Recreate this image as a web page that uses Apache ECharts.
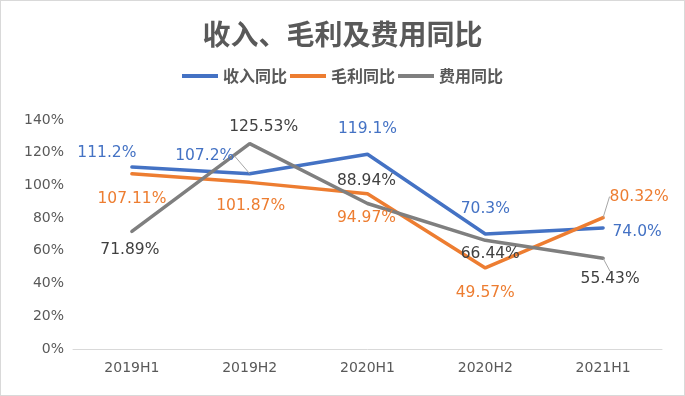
<!DOCTYPE html>
<html><head><meta charset="utf-8">
<script src="https://cdn.jsdelivr.net/npm/echarts@6/dist/echarts.min.js"></script>
<style>html,body{margin:0;padding:0;background:#fff}#c{width:683px;height:394px;border:1px solid #d9d9d9}</style>
</head><body><div id="c"></div>
<script>
var categories = ['2019H1','2019H2','2020H1','2020H2','2021H1'];
var revenueYoY = [111.2, 107.2, 119.1, 70.3, 74.0];
var grossYoY = [107.11, 101.87, 94.97, 49.57, 80.32];
var expenseYoY = [71.89, 125.53, 88.94, 66.44, 55.43];
var revenueLabels = ['111.2%','107.2%','119.1%','70.3%','74.0%'];
var grossLabels = ['107.11%','101.87%','94.97%','49.57%','80.32%'];
var expenseLabels = ['71.89%','125.53%','88.94%','66.44%','55.43%'];

// label offsets (layout only)
var revOff = [[-25,-14],[-45,-18],[0,-25],[0,-25],[34,4]];
var grossOff = [[0,25],[1,24],[-1,24],[0,25],[36,-21]];
var expOff = [[-2,19],[14,-17],[-1,-23],[5,14],[7,21]];
var revLine = [false,true,false,false,false];
var grossLine = [false,false,false,false,true];
var expLine = [false,false,false,false,true];

var FONT = '"Noto Sans CJK SC", "Noto Sans", sans-serif';
var NUMFONT = '"DejaVu Sans", "Noto Sans", sans-serif';
function mk(name, vals, labels, offs, lines, color, labelColor){
  return {
    name: name, type: 'line', symbol: 'circle', symbolSize: 0.01, showSymbol: true, smooth: false,
    lineStyle: {width: 3.5, color: color, cap: 'round'},
    itemStyle: {color: color},
    data: vals.map(function(v,i){
      return {value: v, labelLine: {show: lines[i], lineStyle:{color:'#a6a6a6', width:1}}};
    }),
    label: {show: true, position: 'inside', fontSize: 15.5, fontFamily: NUMFONT, color: labelColor,
      formatter: function(p){return labels[p.dataIndex];}},
    labelLine: {show: false, smooth: false, lineStyle:{color:'#a6a6a6', width:1}},
    labelLayout: function(p){ var o = offs[p.dataIndex]; return {dx: o[0], dy: o[1]}; }
  };
}
var chart = echarts.init(document.getElementById('c'), null, {renderer:'canvas'});
chart.setOption({
  animation: false,
  title: {text: '收入、毛利及费用同比', left: 'center', top: 14,
    textStyle: {fontSize: 28, fontWeight: 'bold', color: '#595959', fontFamily: FONT}},
  legend: {top: 62, left: 'center', itemWidth: 36, itemHeight: 4, itemGap: 3, icon: 'rect',
    textStyle: {fontSize: 16, color: '#595959', fontFamily: FONT, fontWeight: 'bold'},
    data: ['收入同比','毛利同比','费用同比']},
  grid: {left: 72, right: 22, top: 119, bottom: 46, containLabel: false},
  xAxis: {type: 'category', data: categories, boundaryGap: true,
    axisLine: {lineStyle: {color: '#d9d9d9', width: 1}}, axisTick: {show: false},
    axisLabel: {color: '#595959', fontSize: 14, fontFamily: NUMFONT, margin: 12}},
  yAxis: {type: 'value', min: 0, max: 140, interval: 20,
    axisLine: {show: false}, axisTick: {show: false}, splitLine: {show: false},
    axisLabel: {color: '#595959', fontSize: 14, fontFamily: NUMFONT, margin: 9, formatter: '{value}%'}},
  series: [
    mk('收入同比', revenueYoY, revenueLabels, revOff, revLine, '#4472C4', '#4472C4'),
    mk('毛利同比', grossYoY, grossLabels, grossOff, grossLine, '#ED7D31', '#ED7D31'),
    mk('费用同比', expenseYoY, expenseLabels, expOff, expLine, '#7F7F7F', '#404040')
  ]
});
</script></body></html>
